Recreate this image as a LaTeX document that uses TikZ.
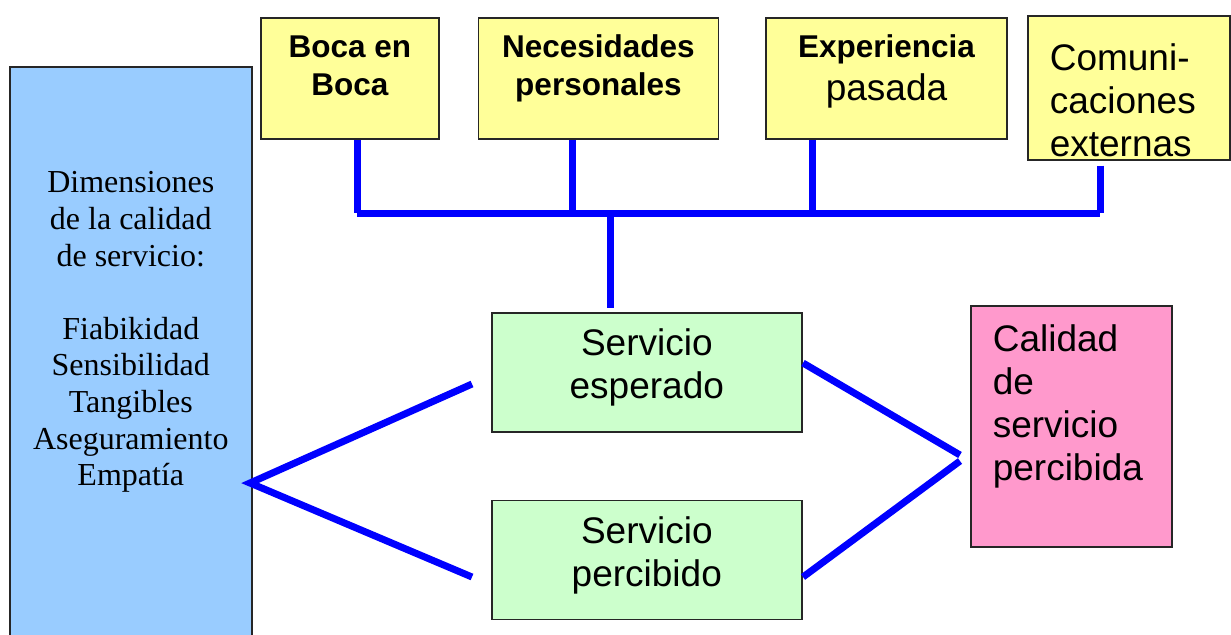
\documentclass[tikz,border=0pt]{standalone}
\usepackage{fontspec}
\setmainfont{Liberation Serif}
\newfontfamily\arial{Liberation Sans}
\usetikzlibrary{positioning}

\definecolor{srcyellow}{HTML}{FFFF99}
\definecolor{svcgreen}{HTML}{CCFFCC}
\definecolor{qualpink}{HTML}{FF99CC}
\definecolor{dimblue}{HTML}{99CCFF}

\tikzset{
  box/.style={draw=black!85, line width=0.8pt, inner sep=0pt, align=flush center},
  srcbox/.style={box, fill=srcyellow, text height=20pt, text depth=40.5pt,
    font=\arial\bfseries\fontsize{15.75}{19}\selectfont},
  svcbox/.style={box, fill=svcgreen, text width=155pt, text height=21.5pt,
    text depth=38pt, font=\arial\fontsize{18.5}{21.5}\selectfont},
  wire/.style={draw=blue, line width=3.5pt},
}

\begin{document}
\begin{tikzpicture}[x=0.5pt,y=-0.5pt]

  \useasboundingbox (0,0) rectangle (1231,634);
  \clip (0,0) rectangle (1231,634);
  \fill[white] (0,0) rectangle (1231,634);

  % fuentes de la expectativa
  \node[srcbox, text width=89pt, anchor=north west] (boca) at (260,17) {Boca en\\Boca};
  \node[srcbox, text width=120pt, right=19pt of boca] (neces) {Necesidades\\personales};
  \node[srcbox, text width=120.5pt, right=23pt of neces,
    font=\arial\fontsize{18.5}{21.5}\selectfont] (exper)
    {{\bfseries\fontsize{15.75}{19}\selectfont Experiencia}\\pasada};
  \node[box, fill=srcyellow, anchor=north west, align=flush left, inner xsep=11pt,
    text width=79pt, text height=27.5pt, text depth=44.5pt,
    font=\arial\fontsize{18.5}{21.5}\selectfont] (comun) at (1027,15)
    {Comuni-\\caciones\\externas};

  % servicio
  \node[svcbox, anchor=north west] (esper) at (491,312) {Servicio\\esperado};
  \node[svcbox, below=33.5pt of esper] (perc) {Servicio\\percibido};

  \node[box, fill=qualpink, anchor=north west, align=flush left, inner xsep=11pt,
    text width=78.5pt, text height=23pt, text depth=97.5pt,
    font=\arial\fontsize{18.5}{21.5}\selectfont] (calidad) at (970,305)
    {Calidad\\de\\servicio\\percibida};

  \node[box, fill=dimblue, anchor=north west, text width=121pt,
    text height=63pt, text depth=254pt, font=\fontsize{16}{18.3}\selectfont] (dims) at (9,66)
    {Dimensiones\\de la calidad\\de servicio:\\[18.3pt]Fiabikidad\\Sensibilidad\\Tangibles\\Aseguramiento\\Empatía};

  \coordinate (j1) at (357,213);
  \coordinate (j2) at (572,213);
  \coordinate (j3) at (812,213);
  \coordinate (j4) at (1100,213);
  \coordinate (hub) at (610,213);
  \coordinate (apex) at (250,483);
  \coordinate (le) at (472,384);
  \coordinate (lp) at (472,577);
  \coordinate (re) at (803,363);
  \coordinate (rp) at (803,577);
  \coordinate (qe) at (960,455);
  \coordinate (qp) at (960,461);

  \path[wire]
    (boca.south -| j1) edge (j1)
    (neces.south -| j2) edge (j2)
    (exper.south -| j3) edge (j3)
    ([yshift=-2.5pt]comun.south -| j4) edge (j4)
    (j1) edge (j4)
    (hub) edge ([yshift=2pt]esper.north -| hub)
    (re) edge (qe)
    (rp) edge (qp);

  \draw[wire] (le) -- (apex) -- (lp);

\end{tikzpicture}
\end{document}
